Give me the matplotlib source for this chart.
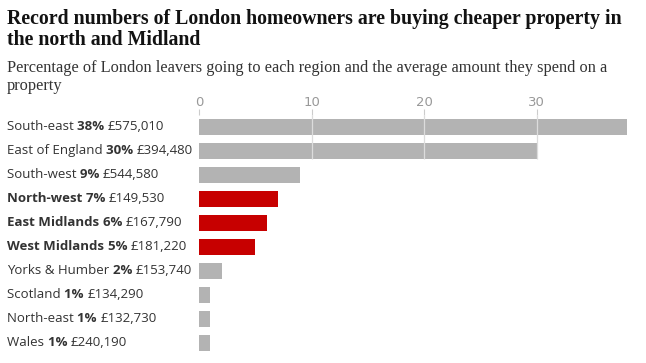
import matplotlib.pyplot as plt
from matplotlib.transforms import IdentityTransform, blended_transform_factory

regions = ["South-east", "East of England", "South-west", "North-west",
           "East Midlands", "West Midlands", "Yorks & Humber", "Scotland",
           "North-east", "Wales"]
shares = [38, 30, 9, 7, 6, 5, 2, 1, 1, 1]
prices = ["£575,010", "£394,480", "£544,580", "£149,530", "£167,790",
          "£181,220", "£153,740", "£134,290", "£132,730", "£240,190"]
highlight = [False, False, False, True, True, True, False, False, False, False]
ticks = [0, 10, 20, 30]

GREY = "#b3b3b3"
RED = "#c70000"
TEXT = "#333333"

fig = plt.figure(figsize=(6.46, 3.63), dpi=100)
W, H = 646, 363
ax = fig.add_axes([199 / W, 1 - 355 / H, (627 - 199) / W, 240 / H])

ys = list(range(len(regions)))
colors = [RED if h else GREY for h in highlight]
ax.barh(ys, shares, height=0.66, color=colors, zorder=1)
ax.set_ylim(len(regions) - 0.5, -0.5)
ax.set_xlim(0, 38)

# faint gridlines only reach through the two long bars
ax.vlines(ticks[1:], -0.5, 1.33, color="#dcdcdc", linewidth=0.9, zorder=2)

ax.xaxis.tick_top()
ax.set_xticks(ticks)
ax.set_xticklabels([str(t) for t in ticks])
ax.tick_params(axis="x", length=4, width=0.8, color="#cccccc",
               labelcolor="#999999", labelsize=9.5, pad=0)
ax.set_yticks([])
for s in ax.spines.values():
    s.set_visible(False)

title_kw = dict(fontsize=14.3, fontweight="bold", family="Liberation Serif",
                color="#121212", va="baseline")
fig.text(7 / W, 1 - 24 / H,
         "Record numbers of London homeowners are buying cheaper property in",
         **title_kw)
fig.text(7 / W, 1 - 45 / H, "the north and Midland", **title_kw)
sub_kw = dict(fontsize=11.8, family="Liberation Serif", color=TEXT,
              va="baseline")
fig.text(7 / W, 1 - 72 / H,
         "Percentage of London leavers going to each region and the average amount they spend on a",
         **sub_kw)
fig.text(7 / W, 1 - 90 / H, "property", **sub_kw)

# row labels built from pieces with mixed weights
renderer = fig.canvas.get_renderer()
trans = blended_transform_factory(IdentityTransform(), ax.transData)
for i, (name, share, price, hl) in enumerate(zip(regions, shares, prices, highlight)):
    pieces = [(name + " ", "bold" if hl else "normal"),
              (f"{share}% ", "bold"),
              (price, "normal")]
    x = 7
    for txt, wt in pieces:
        t = ax.text(x, i, txt, transform=trans, ha="left", va="center",
                    fontsize=9.5, fontweight=wt, family="Open Sans",
                    color=TEXT, clip_on=False)
        x += t.get_window_extent(renderer).width

fig.savefig("out.png", dpi=100)
